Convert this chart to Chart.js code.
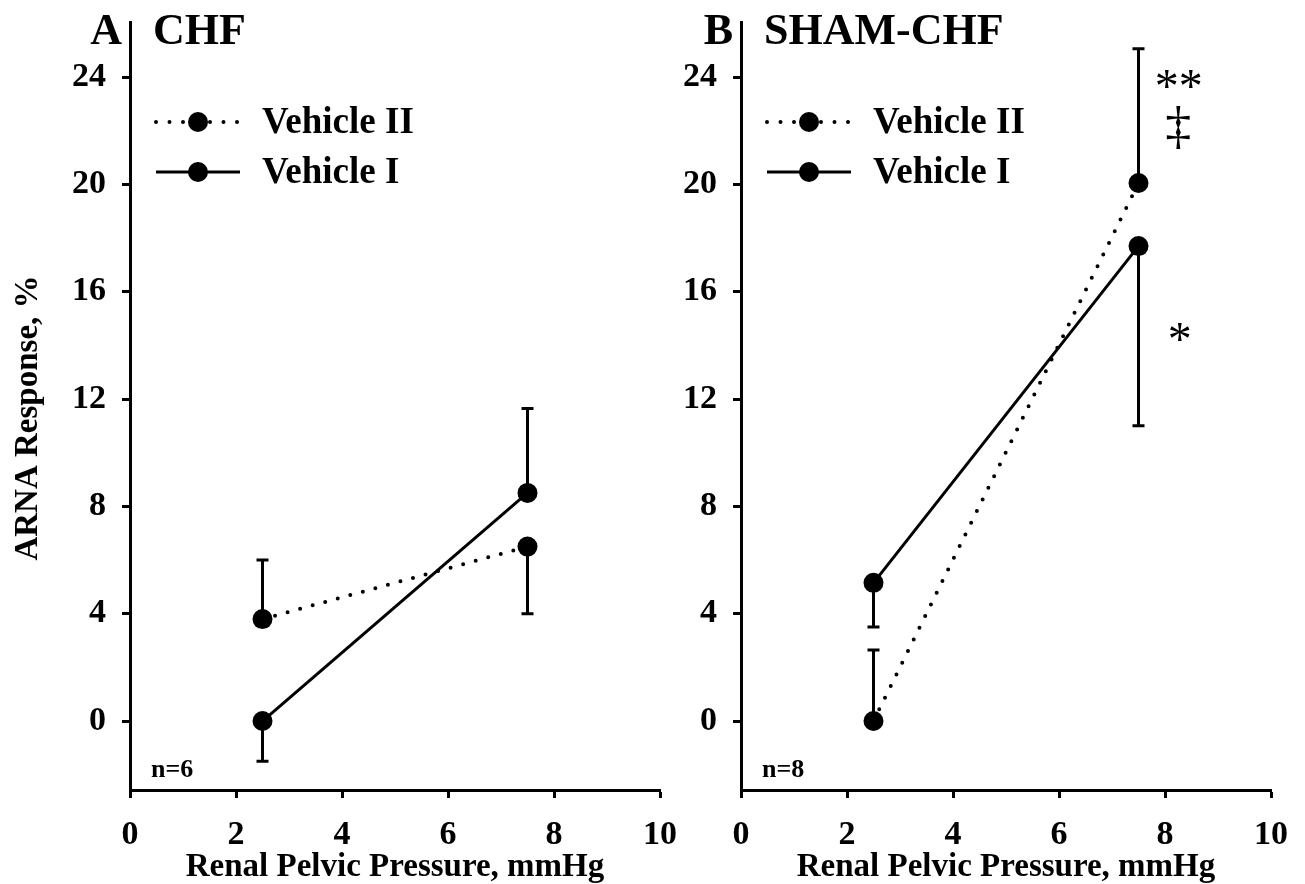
<!DOCTYPE html>
<html>
<head>
<meta charset="utf-8">
<script src="https://cdn.jsdelivr.net/npm/chart.js@4.4.0/dist/chart.umd.min.js"></script>
<style>
  html, body { margin: 0; padding: 0; background: #fff; }
  #wrap { position: relative; width: 1305px; height: 884px; overflow: hidden; background: #fff; }
  canvas { position: absolute; top: 0; }
  #chartA { left: 0; }
  #chartB { left: 611px; }
</style>
</head>
<body>
<div id="wrap">
  <canvas id="chartA" width="680" height="884"></canvas>
  <canvas id="chartB" width="680" height="884"></canvas>
</div>
<script>
const pressures = [2.5, 7.5];
const xTicks = [0, 2, 4, 6, 8, 10];
const yTicks = [0, 4, 8, 12, 16, 20, 24];

// panel A - CHF (error arrays hold the end value of each bar)
const chfVehicleII = [3.8, 6.5];
const chfVehicleIIErr = [6.0, 4.0];
const chfVehicleI = [0, 8.5];
const chfVehicleIErr = [-1.5, 11.65];

// panel B - SHAM-CHF
const shamVehicleII = [0, 20.05];
const shamVehicleIIErr = [2.65, 25.05];
const shamVehicleI = [5.15, 17.7];
const shamVehicleIErr = [3.5, 11.0];

const FONT = "'Liberation Serif', 'Times New Roman', serif";

function toPoints(values) {
    return pressures.map((p, i) => ({ x: p, y: values[i] }));
}

function noScalePadding(s) {
    s.paddingLeft = 0;
    s.paddingRight = 0;
    s.paddingTop = 0;
    s.paddingBottom = 0;
}

const panelDecor = {
    id: 'panelDecor',
    beforeDatasetsDraw(chart) {
        const ctx = chart.ctx;
        const y = chart.scales.y;
        ctx.save();
        ctx.strokeStyle = '#000';
        ctx.lineWidth = 3;
        chart.data.datasets.forEach((ds, i) => {
            const meta = chart.getDatasetMeta(i);
            meta.data.forEach((pt, j) => {
                const yEnd = y.getPixelForValue(ds.errEnds[j]);
                ctx.beginPath();
                ctx.moveTo(pt.x, pt.y);
                ctx.lineTo(pt.x, yEnd);
                ctx.moveTo(pt.x - 6, yEnd);
                ctx.lineTo(pt.x + 6, yEnd);
                ctx.stroke();
            });
        });
        ctx.restore();
    },
    afterDraw(chart, args, opts) {
        const ctx = chart.ctx;
        const a = chart.chartArea;
        const x = chart.scales.x;
        const y = chart.scales.y;
        ctx.save();
        ctx.fillStyle = '#000';
        ctx.strokeStyle = '#000';

        // panel letter + title
        ctx.font = 'bold 44px ' + FONT;
        ctx.textBaseline = 'alphabetic';
        ctx.textAlign = 'right';
        ctx.fillText(opts.letter, a.left - 8, 44);
        ctx.textAlign = 'left';
        ctx.fillText(opts.title, a.left + 23, 44);

        // n label
        ctx.font = 'bold 26px ' + FONT;
        ctx.fillText(opts.n, a.left + 21, 777);

        // legend
        const legend = [
            { label: 'Vehicle II', dotted: true, y: 122 },
            { label: 'Vehicle I', dotted: false, y: 172 }
        ];
        legend.forEach(item => {
            ctx.beginPath();
            if (item.dotted) {
                ctx.lineWidth = 4;
                ctx.lineCap = 'round';
                ctx.setLineDash([0, 13.5]);
            } else {
                ctx.lineWidth = 3;
                ctx.lineCap = 'butt';
                ctx.setLineDash([]);
            }
            ctx.moveTo(a.left + 26, item.y);
            ctx.lineTo(a.left + 110, item.y);
            ctx.stroke();
            ctx.setLineDash([]);
            ctx.beginPath();
            ctx.arc(a.left + 68, item.y, 10, 0, Math.PI * 2);
            ctx.fill();
            ctx.font = 'bold 37px ' + FONT;
            ctx.textAlign = 'left';
            ctx.textBaseline = 'middle';
            ctx.fillText(item.label, a.left + 132, item.y + 1);
        });

        // significance marks
        (opts.marks || []).forEach(m => {
            ctx.font = m.size + 'px ' + FONT;
            ctx.textAlign = 'center';
            ctx.textBaseline = 'alphabetic';
            ctx.fillText(m.text, x.getPixelForValue(m.x), y.getPixelForValue(m.y) + m.shift);
        });

        // y axis title
        if (opts.yTitle) {
            ctx.translate(28, 418);
            ctx.rotate(-Math.PI / 2);
            ctx.font = 'bold 33px ' + FONT;
            ctx.textAlign = 'center';
            ctx.textBaseline = 'middle';
            ctx.fillText(opts.yTitle, 0, 0);
        }
        ctx.restore();
    }
};

function makeChart(canvasId, dotted, solid, dottedErr, solidErr, decor) {
    const ctx = document.getElementById(canvasId).getContext('2d');
    return new Chart(ctx, {
        type: 'line',
        data: {
            datasets: [
                {
                    label: 'Vehicle II',
                    data: toPoints(dotted),
                    errEnds: dottedErr,
                    borderColor: '#000',
                    backgroundColor: '#000',
                    borderWidth: 4,
                    borderDash: [0, 13],
                    borderCapStyle: 'round',
                    pointRadius: 10,
                    pointBorderWidth: 0,
                    pointBackgroundColor: '#000',
                    clip: false
                },
                {
                    label: 'Vehicle I',
                    data: toPoints(solid),
                    errEnds: solidErr,
                    borderColor: '#000',
                    backgroundColor: '#000',
                    borderWidth: 3,
                    pointRadius: 10,
                    pointBorderWidth: 0,
                    pointBackgroundColor: '#000',
                    clip: false
                }
            ]
        },
        options: {
            responsive: false,
            animation: false,
            layout: { padding: { top: 22, right: 20, left: 0, bottom: 0 } },
            plugins: {
                legend: { display: false },
                tooltip: { enabled: false },
                panelDecor: decor
            },
            scales: {
                x: {
                    type: 'linear',
                    min: 0,
                    max: 10,
                    afterBuildTicks: s => { s.ticks = xTicks.map(v => ({ value: v })); },
                    afterFit: s => { s.height = 94; noScalePadding(s); },
                    grid: { drawOnChartArea: false, tickLength: 8, tickWidth: 3, color: '#000' },
                    border: { display: true, width: 3, color: '#000' },
                    ticks: { color: '#000', padding: 17, maxRotation: 0, font: { family: FONT, size: 34, weight: 'bold' } },
                    title: {
                        display: true,
                        text: 'Renal Pelvic Pressure, mmHg',
                        color: '#000',
                        padding: 0,
                        font: { family: FONT, size: 33, weight: 'bold', lineHeight: 1.0 }
                    }
                },
                y: {
                    type: 'linear',
                    min: -2.57,
                    max: 26.05,
                    afterBuildTicks: s => { s.ticks = yTicks.map(v => ({ value: v })); },
                    afterFit: s => { s.width = 130; noScalePadding(s); },
                    grid: { drawOnChartArea: false, tickLength: 8, tickWidth: 3, color: '#000' },
                    border: { display: true, width: 3, color: '#000' },
                    ticks: { color: '#000', padding: 16, font: { family: FONT, size: 34, weight: 'bold' } }
                }
            }
        },
        plugins: [panelDecor]
    });
}

makeChart('chartA', chfVehicleII, chfVehicleI, chfVehicleIIErr, chfVehicleIErr, {
    letter: 'A',
    title: 'CHF',
    n: 'n=6',
    yTitle: 'ARNA Response, %'
});

makeChart('chartB', shamVehicleII, shamVehicleI, shamVehicleIIErr, shamVehicleIErr, {
    letter: 'B',
    title: 'SHAM-CHF',
    n: 'n=8',
    marks: [
        { text: '**', x: 8.26, y: 23.9, size: 48, shift: 22 },
        { text: '\u2021', x: 8.25, y: 22.06, size: 52, shift: 14 },
        { text: '*', x: 8.28, y: 14.46, size: 48, shift: 22 }
    ]
});
</script>
</body>
</html>
